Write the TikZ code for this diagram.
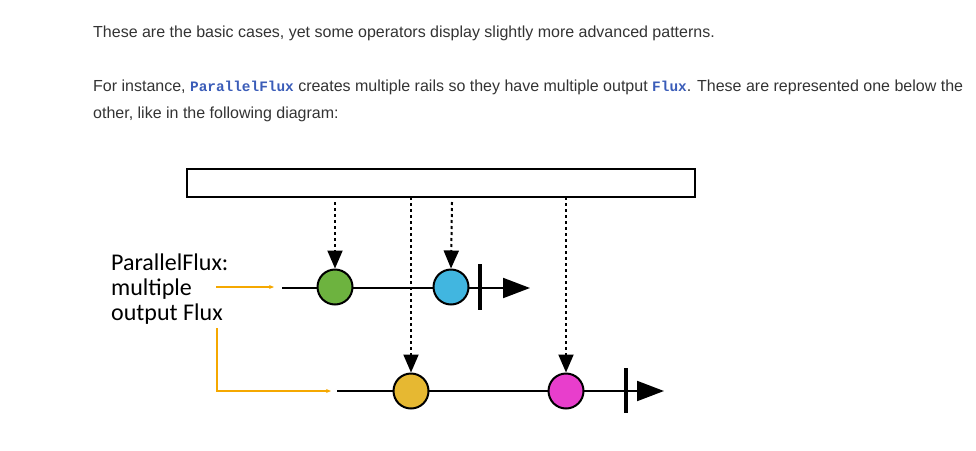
\documentclass[tikz,border=0pt]{standalone}
\usepackage{fontspec}
\setmainfont{Liberation Sans}
\newfontfamily\codefont{Liberation Mono}
\newfontfamily\calib{Carlito}
\usetikzlibrary{arrows.meta}
\definecolor{bodytext}{HTML}{333333}
\definecolor{codeblue}{HTML}{3A5CB8}
\definecolor{orangeline}{HTML}{F5A800}
\definecolor{cgreen}{HTML}{6DB33F}
\definecolor{cblue}{HTML}{41B6E0}
\definecolor{cyellow}{HTML}{E6B832}
\definecolor{cmagenta}{HTML}{E83ECC}
\tikzset{
  para/.style={anchor=base west, inner sep=0pt, text=bodytext, font=\fontsize{16}{18}\selectfont},
  marble/.style={circle, draw=black, line width=2pt, minimum size=35pt, inner sep=0pt},
  rail/.style={draw=black, line width=2pt, -{Triangle[length=27pt,width=20pt]}},
  dotarrow/.style={draw=black, line width=2pt, dash pattern=on 3pt off 3pt, -{Triangle[length=18pt,width=15pt]}},
  termbar/.style={draw=black, line width=3.5pt},
  orangearrow/.style={draw=orangeline, line width=1.6pt, -{Stealth[length=5pt,width=4pt]}},
}
\newcommand{\code}[1]{{\codefont\bfseries\color{codeblue}\fontsize{14.4}{18}\selectfont #1}}
\begin{document}
\begin{tikzpicture}[x=1pt,y=-1pt]
\useasboundingbox (0,0) rectangle (976,450);
% paragraphs
\node[para] (t1) at (93,37) {These are the basic cases, yet some operators display slightly more advanced patterns.};
\node[para] (t2) at (93,91) {For instance, \code{ParallelFlux} creates multiple rails so they have multiple output \code{Flux}. These are represented one below the};
\node[para] (t3) at (93,118) {other, like in the following diagram:};
% operator box
\node[draw=black, line width=2pt, minimum width=508pt, minimum height=28pt, inner sep=0pt, anchor=north west] (box) at (186,168) {};
% rails
\coordinate (r1s) at (282,288);
\coordinate (r1e) at (530,288);
\coordinate (r2s) at (337,391);
\coordinate (r2e) at (664,391);
\draw[rail] (r1s) -- (r1e);
\draw[rail] (r2s) -- (r2e);
% terminal bars
\coordinate (b1t) at (480,264); \coordinate (b1b) at (480,310);
\coordinate (b2t) at (626,368); \coordinate (b2b) at (626,413);
\draw[termbar] (b1t) -- (b1b);
\draw[termbar] (b2t) -- (b2b);
% marbles
\node[marble, fill=cgreen] (g) at (335,287) {};
\node[marble, fill=cblue] (bl) at (451,287) {};
\node[marble, fill=cyellow] (y) at (411,391) {};
\node[marble, fill=cmagenta] (m) at (566,391) {};
% dotted arrows
\coordinate (gs) at (335,202);
\coordinate (bs) at (452,202);
\coordinate (ys) at (411,197);
\coordinate (ms) at (566,197);
\draw[dotarrow] (gs) -- (g.north);
\draw[dotarrow] (bs) -- (bl.north);
\draw[dotarrow] (ys) -- (y.north);
\draw[dotarrow] (ms) -- (m.north);
% label
\node[anchor=base west, inner sep=0pt, align=left, font=\calib\fontsize{24}{25}\selectfont] (lab) at (111,320) {ParallelFlux:\\multiple\\output Flux};
% orange arrows
\coordinate (o1s) at (216,287);
\coordinate (o1e) at (274,287);
\coordinate (o2s) at (217,328);
\coordinate (o2e) at (331,391);
\draw[orangearrow] (o1s) -- (o1e);
\draw[orangearrow] (o2s) |- (o2e);
\end{tikzpicture}
\end{document}
